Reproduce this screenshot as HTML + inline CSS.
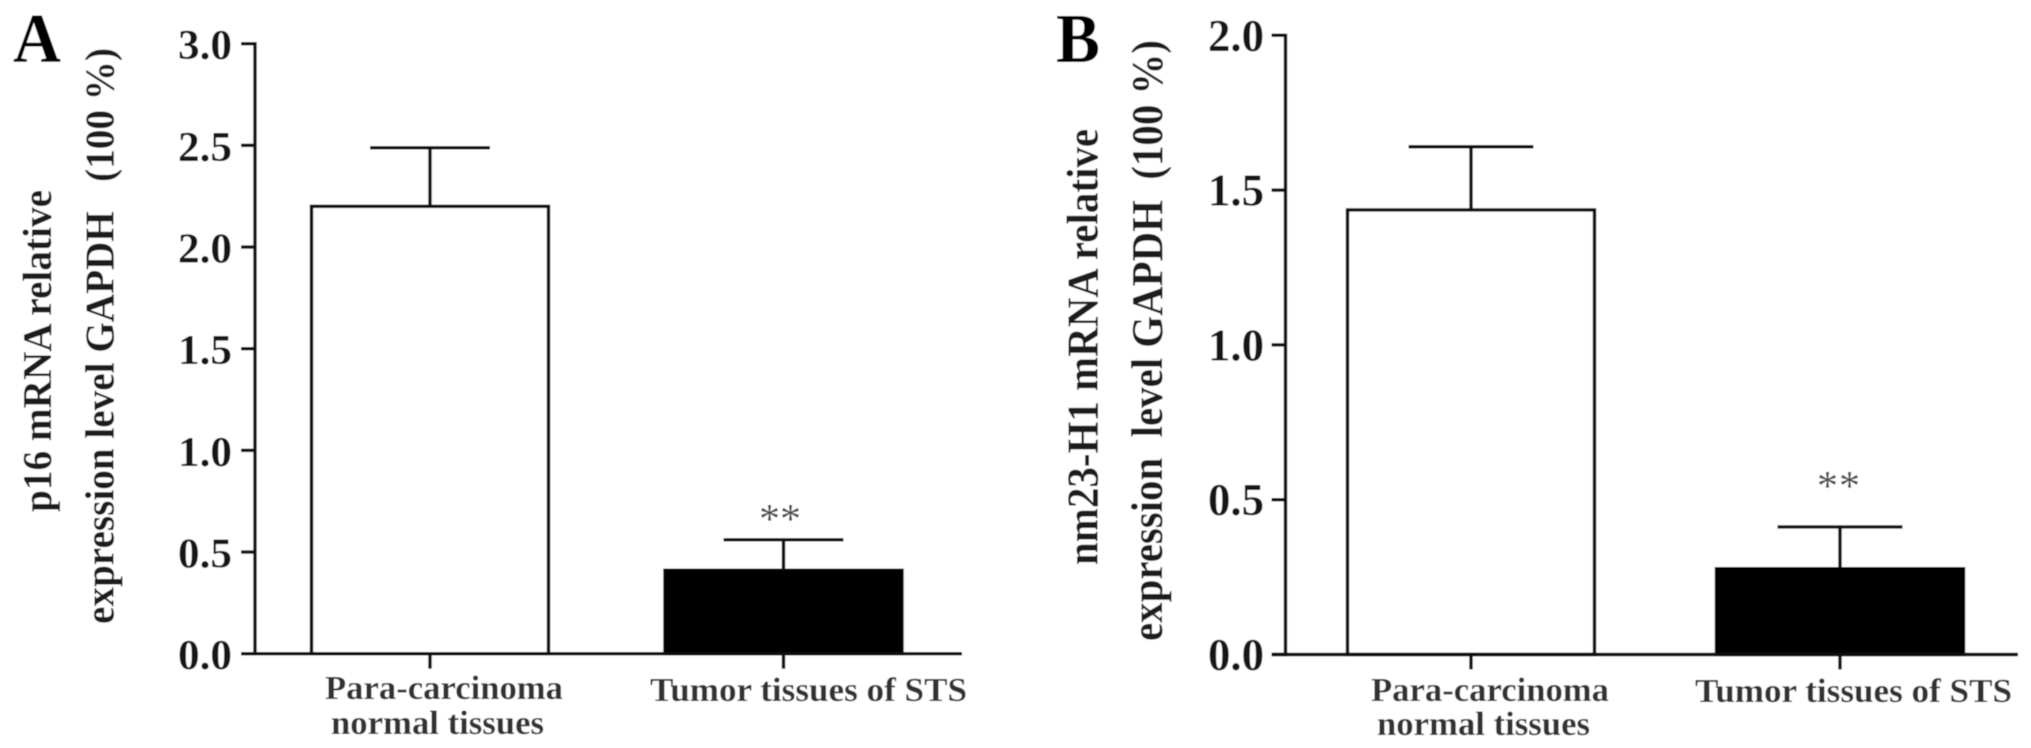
<!DOCTYPE html>
<html lang="en">
<head>
<meta charset="utf-8">
<title>p16 and nm23-H1 mRNA relative expression</title>
<style>
html,body{margin:0;padding:0;background:#fff;}
body{width:2031px;height:748px;overflow:hidden;}
svg{display:block;}
text{font-family:"Liberation Serif",serif;font-weight:bold;fill:#161616;}
.xl{fill:#333;font-size:34px;}
.yt{font-size:41px;fill:#1c1c1c;}
.yt-b{font-size:44px;fill:#1c1c1c;}
.star{font-size:42px;font-weight:normal;fill:#444;}
.plabel{font-size:70px;fill:#000;}
</style>
</head>
<body>
<svg id="figure" xmlns="http://www.w3.org/2000/svg" width="2031" height="748" viewBox="0 0 2031 748">
  <defs>
    <filter id="soft" x="0" y="0" width="100%" height="100%" filterUnits="objectBoundingBox">
      <feGaussianBlur stdDeviation="0.6"/>
    </filter>
  </defs>
  <rect x="0" y="0" width="2031" height="748" fill="#fff"/>
  <g filter="url(#soft)">
    <rect x="0" y="0" width="2031" height="748" fill="#fff"/>
    <g id="panel-a">
      <text class="plabel" x="13" y="62" textLength="48" lengthAdjust="spacingAndGlyphs">A</text>
      <text class="yt" transform="translate(51,512) rotate(-90)" textLength="322" lengthAdjust="spacingAndGlyphs">p16 mRNA relative</text>
      <text class="yt" transform="translate(113.5,624) rotate(-90)" textLength="576" lengthAdjust="spacingAndGlyphs" xml:space="preserve">expression level GAPDH   (100 %)</text>
      <text class="xl" x="325" y="699" textLength="238" lengthAdjust="spacingAndGlyphs">Para-carcinoma</text>
      <text class="xl" x="331" y="734" textLength="213" lengthAdjust="spacingAndGlyphs">normal tissues</text>
      <text class="xl" x="650" y="701" textLength="317" lengthAdjust="spacingAndGlyphs">Tumor tissues of STS</text>
      <text class="star" x="759" y="533" textLength="42" lengthAdjust="spacing">**</text>
    </g>
    <g id="panel-b">
      <text class="plabel" x="1056" y="62" textLength="44" lengthAdjust="spacingAndGlyphs">B</text>
      <text class="yt-b" transform="translate(1097.5,565) rotate(-90)" textLength="436" lengthAdjust="spacingAndGlyphs">nm23-H1 mRNA relative</text>
      <text class="yt-b" transform="translate(1162,641) rotate(-90)" textLength="601" lengthAdjust="spacingAndGlyphs" xml:space="preserve">expression  level GAPDH  (100 %)</text>
      <text class="xl" x="1371" y="701" textLength="238" lengthAdjust="spacingAndGlyphs">Para-carcinoma</text>
      <text class="xl" x="1377" y="735" textLength="213" lengthAdjust="spacingAndGlyphs">normal tissues</text>
      <text class="xl" x="1695" y="702" textLength="317" lengthAdjust="spacingAndGlyphs">Tumor tissues of STS</text>
      <text class="star" x="1817" y="500" textLength="43" lengthAdjust="spacing">**</text>
    </g>
  </g>
</svg>
<script>
// Panel A data
var categories = ['Para-carcinoma normal tissues', 'Tumor tissues of STS'];
var panelAValues = [2.2, 0.41];
var panelAErrorTops = [2.488, 0.56];
var panelATickLabels = ['0.0', '0.5', '1.0', '1.5', '2.0', '2.5', '3.0'];
// Panel B data
var panelBValues = [1.436, 0.277];
var panelBErrorTops = [1.64, 0.412];
var panelBTickLabels = ['0.0', '0.5', '1.0', '1.5', '2.0'];

var NS = 'http://www.w3.org/2000/svg';

function makeAxisY(domainMax, y0, yTop) {
  return function (v) { return y0 - (v / domainMax) * (y0 - yTop); };
}
function makeAxisX(centerFirst, centerLast, count) {
  return function (i) { return centerFirst + (centerLast - centerFirst) * i / (count - 1); };
}
function line(parent, x1, y1, x2, y2, name) {
  var el = document.createElementNS(NS, 'line');
  
  
  el.setAttribute('x1', x1);
  el.setAttribute('y1', y1);
  el.setAttribute('x2', x2);
  el.setAttribute('y2', y2);
  el.setAttribute('stroke', '#111');
  el.setAttribute('stroke-width', 3.4);
  parent.appendChild(el);
  return el;
}
function drawPanel(id, cfg, values, errs, tickLabels) {
  var g = document.getElementById(id);
  var domainMax = parseFloat(tickLabels[tickLabels.length - 1]);
  var y = makeAxisY(domainMax, cfg.y0, cfg.yTop);
  var x = makeAxisX(cfg.c0, cfg.c1, categories.length);

  values.forEach(function (v, i) {
    var r = document.createElementNS(NS, 'rect');
    
    
    r.setAttribute('x', x(i) - cfg.barW / 2);
    r.setAttribute('y', y(v));
    r.setAttribute('width', cfg.barW);
    r.setAttribute('height', cfg.y0 - y(v));
    r.setAttribute('fill', i === 0 ? '#fff' : '#000');
    r.setAttribute('stroke', i === 0 ? '#111' : '#000');
    r.setAttribute('stroke-width', 3.4);
    g.appendChild(r);
    line(g, x(i), y(v), x(i), y(errs[i]), id + '-error-stem-' + i);
    line(g, x(i) - cfg.capW / 2, y(errs[i]), x(i) + cfg.capW / 2, y(errs[i]), id + '-error-cap-' + i);
    line(g, x(i), cfg.y0, x(i), cfg.y0 + 15, id + '-x-tick-' + i);
  });

  line(g, cfg.axisX, cfg.yTop - 1.7, cfg.axisX, cfg.y0 + 1.7, id + '-y-axis');
  line(g, cfg.axisX - 14, cfg.y0, cfg.xEnd, cfg.y0, id + '-x-axis');

  tickLabels.forEach(function (label) {
    var v = parseFloat(label);
    line(g, cfg.axisX - 14, y(v), cfg.axisX, y(v), id + '-y-tick-' + label);
    var t = document.createElementNS(NS, 'text');
    
    
    t.setAttribute('font-size', cfg.tickFont);
    t.setAttribute('x', cfg.labelX);
    t.setAttribute('y', y(v) + 15.5);
    t.setAttribute('textLength', cfg.labelW);
    t.setAttribute('lengthAdjust', 'spacingAndGlyphs');
    t.textContent = label;
    g.appendChild(t);
  });
}
drawPanel('panel-a', {y0: 653.7, yTop: 43.7, axisX: 255, xEnd: 962, c0: 430, c1: 783.5, barW: 237, capW: 120, tickFont: 42, labelX: 178, labelW: 54},
  panelAValues, panelAErrorTops, panelATickLabels);
drawPanel('panel-b', {y0: 654.5, yTop: 35.3, axisX: 1285.5, xEnd: 2018, c0: 1471, c1: 1840, barW: 247, capW: 125, tickFont: 45, labelX: 1208, labelW: 56},
  panelBValues, panelBErrorTops, panelBTickLabels);
</script>
</body>
</html>
